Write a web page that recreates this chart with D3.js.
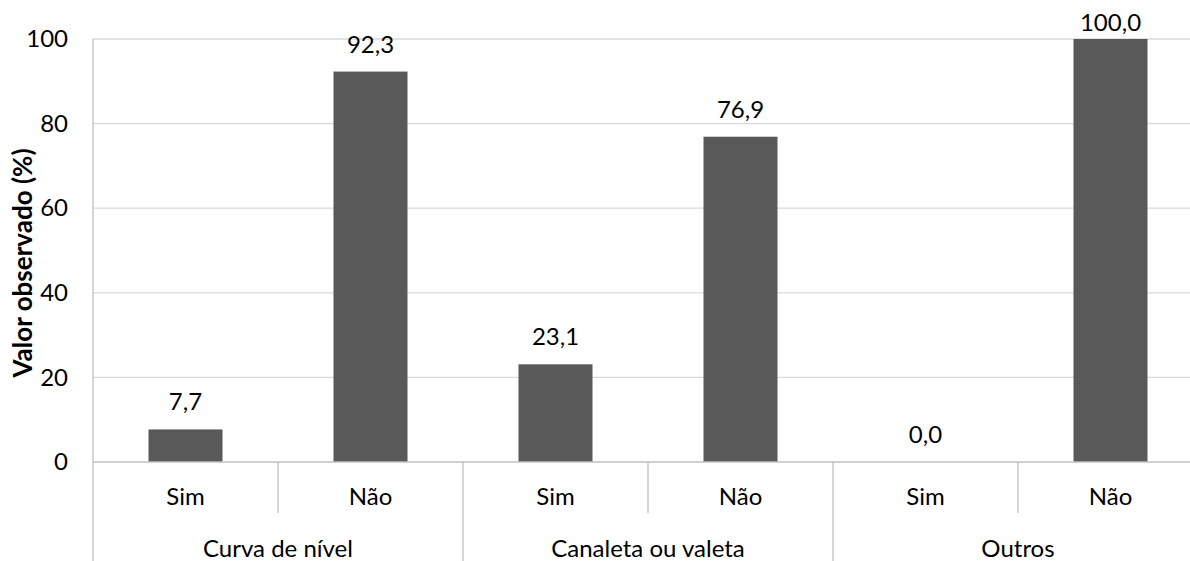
<!DOCTYPE html>
<html>
<head>
<meta charset="utf-8">
<script src="https://cdn.jsdelivr.net/npm/d3@7"></script>
<style>
  html, body { margin: 0; padding: 0; background: #fff; overflow: hidden; }
  svg { display: block; font-family: Lato, "Open Sans", sans-serif; }
</style>
</head>
<body>
<svg id="chart" width="1190" height="561"></svg>
<script>
const groups = ["Curva de nível", "Canaleta ou valeta", "Outros"];
const answers = ["Sim", "Não"];
const values = [7.7, 92.3, 23.1, 76.9, 0.0, 100.0];
const yTicks = [0, 20, 40, 60, 80, 100];
const yTitle = "Valor observado (%)";

(function () {
const rows = [];
groups.forEach((g, gi) => answers.forEach((a, ai) => {
  rows.push({ key: g + "|" + a, group: g, answer: a, value: values[gi * answers.length + ai] });
}));

const svg = d3.select("#chart");
const pLeft = 93, pRight = 1203, pTop = 39, pBase = 462, pBottom = 561;
const fs = 24;

const x = d3.scaleBand().domain(rows.map(d => d.key)).range([pLeft, pRight])
  .paddingInner(0.6).paddingOuter(0.3);
const cell = d3.scaleBand().domain(rows.map(d => d.key)).range([pLeft, pRight]).padding(0);
const gx = d3.scaleBand().domain(groups).range([pLeft, pRight]).padding(0);
const y = d3.scaleLinear().domain([0, 100]).range([pBase, pTop]);

// gridlines
svg.append("g").selectAll("line").data(yTicks.filter(t => t > 0)).join("line")
  .attr("x1", pLeft).attr("x2", pRight)
  .attr("y1", d => y(d)).attr("y2", d => y(d))
  .attr("stroke", "#d9d9d9").attr("stroke-width", 1.3);

// y axis labels
const yAxis = d3.axisLeft(y).tickValues(yTicks).tickSize(0).tickPadding(25).tickFormat(d3.format("d"));
const ya = svg.append("g").attr("transform", `translate(${pLeft},0)`).call(yAxis);
ya.select(".domain").remove();
ya.selectAll("text").attr("font-size", fs).attr("fill", "#000").attr("font-family", "Lato, sans-serif");

// bars
svg.append("g").selectAll("rect").data(rows).join("rect")
  .attr("x", d => x(d.key)).attr("width", x.bandwidth())
  .attr("y", d => y(d.value)).attr("height", d => pBase - y(d.value))
  .attr("fill", "#595959");

// value labels (kept inside the top of the chart area)
const fmt = v => d3.format(".1f")(v).replace(".", ",");
svg.append("g").selectAll("text").data(rows).join("text")
  .attr("x", d => x(d.key) + x.bandwidth() / 2)
  .attr("y", d => Math.max(y(d.value) - 19, fs + 7))
  .attr("text-anchor", "middle").attr("font-size", fs).attr("fill", "#000")
  .text(d => fmt(d.value));

// axis lines
const axisColor = "#c0c0c0";
svg.append("line").attr("x1", pLeft).attr("x2", pRight).attr("y1", pBase).attr("y2", pBase)
  .attr("stroke", axisColor).attr("stroke-width", 1.3);
svg.append("line").attr("x1", pLeft).attr("x2", pLeft).attr("y1", pTop).attr("y2", pBottom)
  .attr("stroke", axisColor).attr("stroke-width", 1.3);

// sub separators
svg.append("g").selectAll("line").data(rows.filter((d, i) => i % answers.length !== 0)).join("line")
  .attr("x1", d => cell(d.key)).attr("x2", d => cell(d.key))
  .attr("y1", pBase).attr("y2", 513)
  .attr("stroke", axisColor).attr("stroke-width", 1.3);
// group separators
svg.append("g").selectAll("line").data(groups.slice(1)).join("line")
  .attr("x1", d => gx(d)).attr("x2", d => gx(d))
  .attr("y1", pBase).attr("y2", pBottom)
  .attr("stroke", axisColor).attr("stroke-width", 1.3);

// sub labels
svg.append("g").selectAll("text").data(rows).join("text")
  .attr("x", d => cell(d.key) + cell.bandwidth() / 2).attr("y", 505)
  .attr("text-anchor", "middle").attr("font-size", fs).attr("fill", "#000")
  .text(d => d.answer);
// group labels
svg.append("g").selectAll("text").data(groups).join("text")
  .attr("x", d => gx(d) + gx.bandwidth() / 2).attr("y", 557)
  .attr("text-anchor", "middle").attr("font-size", fs).attr("fill", "#000")
  .text(d => d);

// y title
svg.append("text")
  .attr("transform", "translate(32,263) rotate(-90)")
  .attr("text-anchor", "middle").attr("font-size", 26).attr("font-weight", "bold").attr("fill", "#000")
  .text(yTitle);
})();
</script>
</body>
</html>
